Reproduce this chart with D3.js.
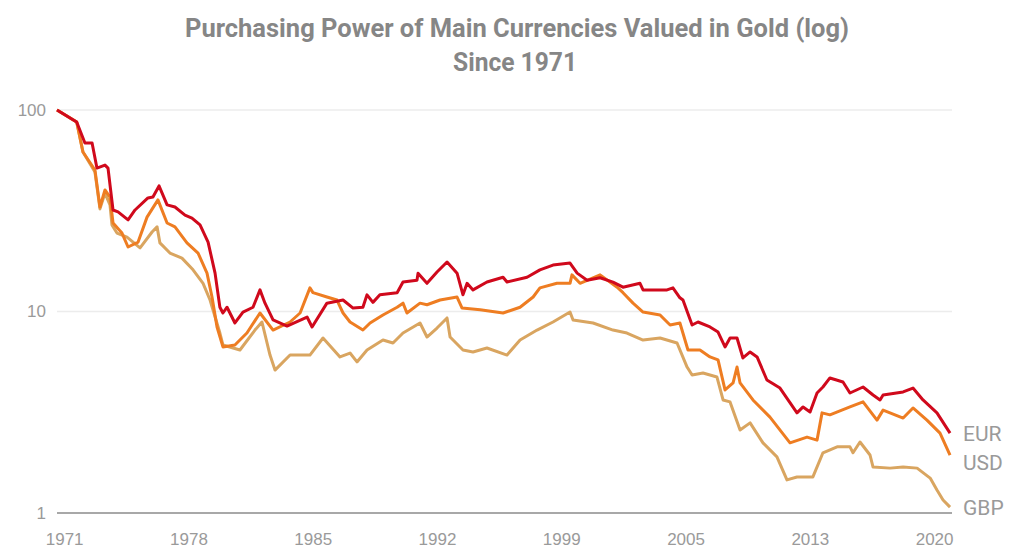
<!DOCTYPE html>
<html>
<head>
<meta charset="utf-8">
<script src="https://cdn.jsdelivr.net/npm/d3@7"></script>
<style>
  body { margin: 0; background: #fff; }
  svg { display: block; font-family: Roboto, "Noto Sans", sans-serif; }
  .title { font-weight: bold; fill: #868686; }
  .axis text { fill: #9a9a9a; font-size: 17px; }
  .grid { stroke: #ececec; stroke-width: 1.5; }
  .baseline { stroke: #a8a8a8; stroke-width: 2; }
  .series { fill: none; stroke-width: 3; stroke-linejoin: round; }
  .label { fill: #9a9a9a; font-size: 21px; }
</style>
</head>
<body>
<svg width="1025" height="550"></svg>
<script>
// **** Data (year, index value; 1971 = 100) ****

var tickLabels = ['1971', '1978', '1985', '1992', '1999', '2005', '2013', '2020'];
var seriesNames = ['EUR', 'USD', 'GBP'];
var seriesColors = ['#d0091c', '#ee7d22', '#d9a560'];

var eur = [
  [1971.0,100],[1972.1,87.2],[1972.56,68.6],[1972.96,68.6],[1973.23,51.5],[1973.68,53.3],[1973.85,51.5],
  [1974.13,31.9],[1974.41,31.2],[1974.97,28.5],[1975.36,31.9],[1976.08,36.6],[1976.36,37.0],[1976.7,42.0],
  [1977.15,33.8],[1977.59,33.0],[1978.15,30.1],[1978.54,29.1],[1978.99,26.9],[1979.44,22.1],[1979.83,15.5],
  [1980.1,10.5],[1980.27,9.83],[1980.5,10.5],[1980.94,8.77],[1981.39,9.94],[1981.95,10.5],[1982.34,12.8],
  [1982.62,11.0],[1983.07,9.08],[1983.85,8.47],[1984.97,9.39],[1985.25,8.38],[1986.08,11.0],[1986.98,11.4],
  [1987.54,10.4],[1988.09,10.5],[1988.32,12.1],[1988.65,11.1],[1989.04,12.1],[1990.0,12.4],[1990.33,14.0],
  [1991.11,14.3],[1991.17,15.5],[1991.67,13.8],[1992.23,15.7],[1992.79,17.6],[1993.35,15.5],[1993.68,12.1],
  [1993.91,13.8],[1994.24,12.8],[1995.02,14.0],[1995.92,14.8],[1996.14,14.0],[1997.26,14.8],[1997.98,16.1],
  [1998.71,17.0],[1999.66,17.4],[2000.06,15.5],[2000.61,14.3],[2001.34,14.7],[2002.06,14.0],[2002.62,13.2],
  [2003.57,13.8],[2003.74,12.8],[2005.08,12.8],[2005.41,13.1],[2005.8,11.7],[2005.97,11.4],[2006.48,8.57],
  [2006.81,8.87],[2007.48,8.38],[2007.93,7.91],[2008.32,6.67],[2008.6,7.39],[2008.99,7.39],[2009.32,5.88],
  [2009.72,6.30],[2010.11,5.95],[2010.66,4.57],[2011.39,4.17],[2012.34,3.14],[2012.68,3.36],[2013.07,3.17],
  [2013.46,3.94],[2013.79,4.22],[2014.18,4.68],[2014.91,4.47],[2015.3,3.94],[2016.03,4.22],[2016.59,3.85],
  [2016.98,3.64],[2017.15,3.85],[2018.27,3.99],[2018.82,4.17],[2019.38,3.64],[2020.16,3.14],[2020.89,2.49]
];

var usd = [
  [1971.0,100],[1972.1,87.2],[1972.45,61.9],[1973.12,50.4],[1973.4,33.0],[1973.68,40.1],[1973.96,37.0],
  [1974.13,27.5],[1974.63,24.5],[1974.97,20.9],[1975.53,22.1],[1976.03,29.4],[1976.64,35.8],[1977.15,27.5],
  [1977.59,26.3],[1978.26,21.9],[1978.88,19.5],[1979.38,15.5],[1979.66,11.8],[1979.94,8.38],[1980.27,6.67],
  [1980.94,6.82],[1981.61,7.82],[1982.34,9.83],[1983.07,8.09],[1984.02,8.87],[1984.58,9.83],[1985.13,13.1],
  [1985.3,12.4],[1986.08,11.8],[1986.64,11.4],[1986.98,9.83],[1987.37,8.87],[1988.09,8.09],[1988.49,8.77],
  [1989.21,9.61],[1990.0,10.5],[1990.33,11.0],[1990.55,9.83],[1991.28,11.0],[1991.67,10.8],[1992.4,11.4],
  [1993.35,11.8],[1993.63,10.4],[1994.64,10.2],[1995.92,9.83],[1996.87,10.5],[1997.6,11.8],[1997.98,13.1],
  [1998.93,13.8],[1999.66,13.8],[1999.77,15.2],[2000.22,13.8],[2001.34,15.2],[2002.29,13.2],[2002.62,12.4],
  [2003.18,11.0],[2003.74,9.94],[2004.69,9.61],[2005.25,8.57],[2005.8,8.77],[2006.25,6.44],[2006.92,6.44],
  [2007.48,5.95],[2007.93,5.75],[2008.32,4.08],[2008.77,4.42],[2008.99,5.30],[2009.16,4.42],[2009.88,3.64],
  [2010.83,2.99],[2011.95,2.23],[2012.9,2.38],[2013.46,2.30],[2013.74,3.14],[2014.18,3.07],[2015.3,3.36],
  [2016.03,3.56],[2016.81,2.89],[2017.15,3.24],[2018.27,2.96],[2018.82,3.32],[2019.6,2.89],[2020.33,2.49],
  [2020.89,1.94]
];

var gbp = [
  [1971.0,100],[1972.1,87.2],[1972.45,61.9],[1973.12,49.2],[1973.4,32.3],[1973.68,38.7],[1973.96,33.8],
  [1974.07,26.9],[1974.35,24.5],[1974.91,23.4],[1975.64,20.7],[1976.31,24.8],[1976.59,26.3],[1976.75,21.9],
  [1977.31,19.5],[1977.98,18.4],[1978.6,16.1],[1979.16,13.8],[1979.55,11.4],[1980.1,7.82],[1980.27,6.82],
  [1981.22,6.44],[1982.06,8.09],[1982.45,8.87],[1982.9,6.08],[1983.18,5.12],[1984.02,6.08],[1985.13,6.08],
  [1985.86,7.39],[1986.81,5.95],[1987.37,6.22],[1987.76,5.62],[1988.32,6.44],[1989.21,7.22],[1989.77,6.98],
  [1990.33,7.82],[1991.28,8.77],[1991.67,7.47],[1992.23,8.28],[1992.79,9.29],[1992.96,7.47],[1993.68,6.44],
  [1994.24,6.30],[1995.02,6.59],[1996.14,6.08],[1996.87,7.22],[1997.82,8.09],[1998.71,8.87],[1999.66,9.94],
  [1999.83,9.08],[2000.95,8.77],[2002.06,8.09],[2002.84,7.82],[2003.74,7.22],[2004.69,7.39],[2005.64,6.98],
  [2006.2,5.30],[2006.48,4.84],[2007.09,4.95],[2007.87,4.73],[2008.21,3.64],[2008.6,3.56],[2009.16,2.58],
  [2009.72,2.80],[2010.44,2.23],[2011.22,1.90],[2011.78,1.46],[2012.34,1.51],[2013.23,1.51],[2013.79,1.99],
  [2014.58,2.13],[2015.3,2.13],[2015.47,1.99],[2015.86,2.25],[2016.42,1.94],[2016.59,1.69],[2017.54,1.67],
  [2018.27,1.69],[2019.05,1.67],[2019.78,1.49],[2020.16,1.30],[2020.5,1.16],[2020.89,1.07]
];

var allSeries = [eur, usd, gbp];

// **** Scales and axes ****

var svg = d3.select('svg');

var x = d3.scaleLinear().domain([1971, 2021]).range([57, 952]);
var y = d3.scaleLog().domain([1, 100]).range([513, 110]);
// the labels on this chart sit at even steps, not on true years
var tickScale = d3.scalePoint().domain(tickLabels).range([x(1971.4), x(2020)]);

svg.append('text')
    .attr('class', 'title')
    .attr('x', 517).attr('y', 37)
    .attr('text-anchor', 'middle')
    .attr('font-size', 26)
    .attr('textLength', 664)
    .attr('lengthAdjust', 'spacingAndGlyphs')
    .text('Purchasing Power of Main Currencies Valued in Gold (log)');
svg.append('text')
    .attr('class', 'title')
    .attr('x', 515).attr('y', 71)
    .attr('text-anchor', 'middle')
    .attr('font-size', 26)
    .attr('textLength', 124)
    .attr('lengthAdjust', 'spacingAndGlyphs')
    .text('Since 1971');

// gridlines
svg.selectAll('.grid')
    .data([10, 100])
    .enter().append('line')
    .attr('class', 'grid')
    .attr('x1', x(1971)).attr('x2', x(2021))
    .attr('y1', function(d){ return y(d); })
    .attr('y2', function(d){ return y(d); });
svg.append('line')
    .attr('class', 'baseline')
    .attr('x1', x(1971)).attr('x2', x(2021))
    .attr('y1', y(1)).attr('y2', y(1));

svg.append('g').attr('class', 'y axis')
    .attr('transform', 'translate(57,0)')
    .call(d3.axisLeft(y).tickValues([1, 10, 100]).tickFormat(d3.format('d')).tickSize(0).tickPadding(11))
    .call(function(g){ g.select('.domain').remove(); });

svg.append('g').attr('class', 'x axis')
    .attr('transform', 'translate(0,' + y(1) + ')')
    .call(d3.axisBottom(tickScale).tickSize(0).tickPadding(20))
    .call(function(g){ g.select('.domain').remove(); });

// **** Lines ****

var line = d3.line()
    .x(function(d){ return x(d[0]); })
    .y(function(d){ return y(d[1]); });

// draw GBP first so EUR sits on top
for (var i = allSeries.length - 1; i >= 0; i--) {
    svg.append('path')
        .attr('class', 'series')
        .attr('stroke', seriesColors[i])
        .attr('d', line(allSeries[i]));
}

// end labels, nudged apart if they crowd
var labelY = allSeries.map(function(s){ return y(s[s.length - 1][1]); });
for (var j = 1; j < labelY.length; j++) {
    if (labelY[j] - labelY[j - 1] < 29) labelY[j] = labelY[j - 1] + 29;
}
svg.selectAll('.label')
    .data(seriesNames)
    .enter().append('text')
    .attr('class', 'label')
    .attr('x', 963)
    .attr('y', function(d, k){ return labelY[k]; })
    .attr('dy', '0.36em')
    .text(function(d){ return d; });
</script>
</body>
</html>
